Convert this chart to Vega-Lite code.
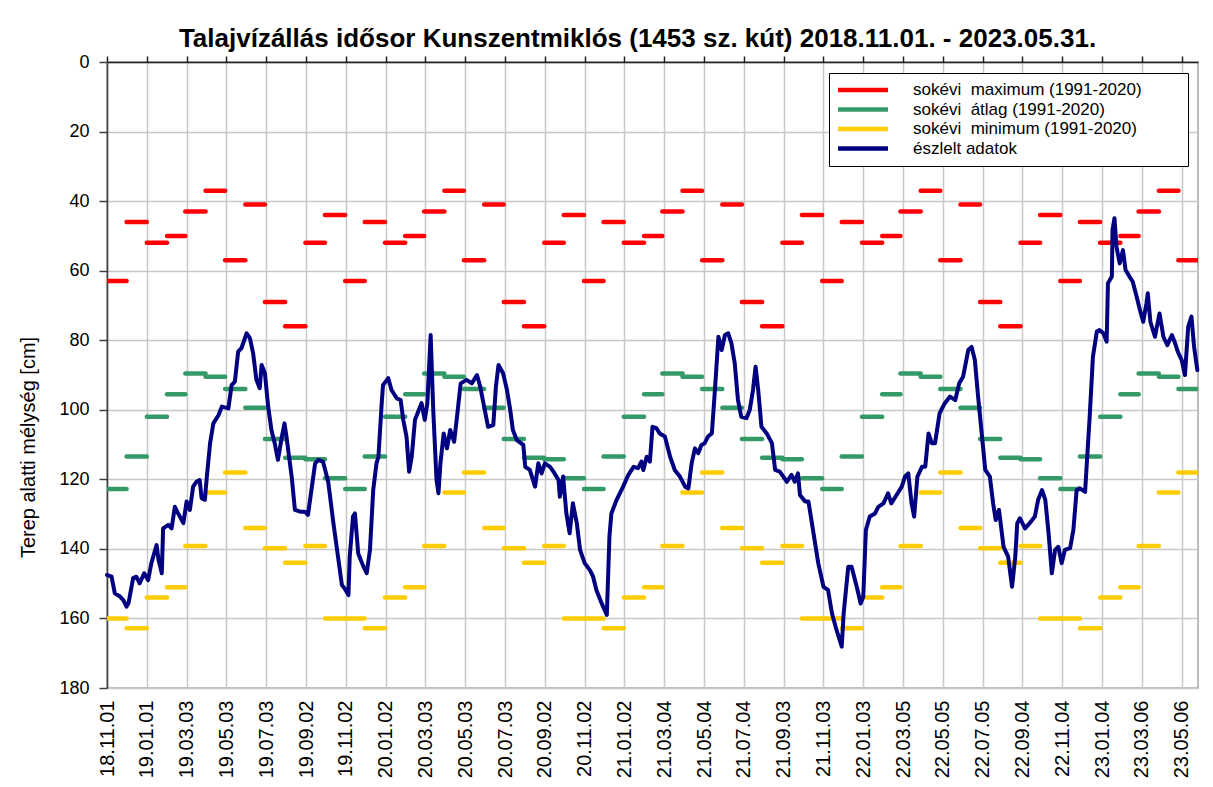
{
"$schema": "https://vega.github.io/schema/vega-lite/v6.json",
"width": 1091, "height": 626,
"autosize": {"type": "none"},
"padding": {"left": 107, "top": 62, "right": 15, "bottom": 99},
"background": "#ffffff",
"title": {"text": "Talajvízállás idősor Kunszentmiklós (1453 sz. kút) 2018.11.01. - 2023.05.31.", "font": "Liberation Sans", "fontSize": 26, "fontWeight": "bold", "color": "#000000", "anchor": "middle", "dx": -15, "dy": 24, "baseline": "alphabetic", "offset": 4},
"datasets": {
"havi": [
{"kezd":"2018-11-01","veg":"2018-12-01","max":63,"atlag":122.8,"min":160},
{"kezd":"2018-12-01","veg":"2019-01-01","max":46,"atlag":113.4,"min":162.8},
{"kezd":"2019-01-01","veg":"2019-02-01","max":52,"atlag":102,"min":154},
{"kezd":"2019-02-01","veg":"2019-03-01","max":50,"atlag":95.5,"min":151},
{"kezd":"2019-03-01","veg":"2019-04-01","max":43,"atlag":89.6,"min":139.2},
{"kezd":"2019-04-01","veg":"2019-05-01","max":37,"atlag":90.5,"min":123.8},
{"kezd":"2019-05-01","veg":"2019-06-01","max":57,"atlag":94,"min":118},
{"kezd":"2019-06-01","veg":"2019-07-01","max":41,"atlag":99.4,"min":134},
{"kezd":"2019-07-01","veg":"2019-08-01","max":69,"atlag":108.4,"min":139.8},
{"kezd":"2019-08-01","veg":"2019-09-01","max":76,"atlag":113.8,"min":144},
{"kezd":"2019-09-01","veg":"2019-10-01","max":52,"atlag":114.2,"min":139.2},
{"kezd":"2019-10-01","veg":"2019-11-01","max":44,"atlag":119.7,"min":160},
{"kezd":"2019-11-01","veg":"2019-12-01","max":63,"atlag":122.8,"min":160},
{"kezd":"2019-12-01","veg":"2020-01-01","max":46,"atlag":113.4,"min":162.8},
{"kezd":"2020-01-01","veg":"2020-02-01","max":52,"atlag":102,"min":154},
{"kezd":"2020-02-01","veg":"2020-03-01","max":50,"atlag":95.5,"min":151},
{"kezd":"2020-03-01","veg":"2020-04-01","max":43,"atlag":89.6,"min":139.2},
{"kezd":"2020-04-01","veg":"2020-05-01","max":37,"atlag":90.5,"min":123.8},
{"kezd":"2020-05-01","veg":"2020-06-01","max":57,"atlag":94,"min":118},
{"kezd":"2020-06-01","veg":"2020-07-01","max":41,"atlag":99.4,"min":134},
{"kezd":"2020-07-01","veg":"2020-08-01","max":69,"atlag":108.4,"min":139.8},
{"kezd":"2020-08-01","veg":"2020-09-01","max":76,"atlag":113.8,"min":144},
{"kezd":"2020-09-01","veg":"2020-10-01","max":52,"atlag":114.2,"min":139.2},
{"kezd":"2020-10-01","veg":"2020-11-01","max":44,"atlag":119.7,"min":160},
{"kezd":"2020-11-01","veg":"2020-12-01","max":63,"atlag":122.8,"min":160},
{"kezd":"2020-12-01","veg":"2021-01-01","max":46,"atlag":113.4,"min":162.8},
{"kezd":"2021-01-01","veg":"2021-02-01","max":52,"atlag":102,"min":154},
{"kezd":"2021-02-01","veg":"2021-03-01","max":50,"atlag":95.5,"min":151},
{"kezd":"2021-03-01","veg":"2021-04-01","max":43,"atlag":89.6,"min":139.2},
{"kezd":"2021-04-01","veg":"2021-05-01","max":37,"atlag":90.5,"min":123.8},
{"kezd":"2021-05-01","veg":"2021-06-01","max":57,"atlag":94,"min":118},
{"kezd":"2021-06-01","veg":"2021-07-01","max":41,"atlag":99.4,"min":134},
{"kezd":"2021-07-01","veg":"2021-08-01","max":69,"atlag":108.4,"min":139.8},
{"kezd":"2021-08-01","veg":"2021-09-01","max":76,"atlag":113.8,"min":144},
{"kezd":"2021-09-01","veg":"2021-10-01","max":52,"atlag":114.2,"min":139.2},
{"kezd":"2021-10-01","veg":"2021-11-01","max":44,"atlag":119.7,"min":160},
{"kezd":"2021-11-01","veg":"2021-12-01","max":63,"atlag":122.8,"min":160},
{"kezd":"2021-12-01","veg":"2022-01-01","max":46,"atlag":113.4,"min":162.8},
{"kezd":"2022-01-01","veg":"2022-02-01","max":52,"atlag":102,"min":154},
{"kezd":"2022-02-01","veg":"2022-03-01","max":50,"atlag":95.5,"min":151},
{"kezd":"2022-03-01","veg":"2022-04-01","max":43,"atlag":89.6,"min":139.2},
{"kezd":"2022-04-01","veg":"2022-05-01","max":37,"atlag":90.5,"min":123.8},
{"kezd":"2022-05-01","veg":"2022-06-01","max":57,"atlag":94,"min":118},
{"kezd":"2022-06-01","veg":"2022-07-01","max":41,"atlag":99.4,"min":134},
{"kezd":"2022-07-01","veg":"2022-08-01","max":69,"atlag":108.4,"min":139.8},
{"kezd":"2022-08-01","veg":"2022-09-01","max":76,"atlag":113.8,"min":144},
{"kezd":"2022-09-01","veg":"2022-10-01","max":52,"atlag":114.2,"min":139.2},
{"kezd":"2022-10-01","veg":"2022-11-01","max":44,"atlag":119.7,"min":160},
{"kezd":"2022-11-01","veg":"2022-12-01","max":63,"atlag":122.8,"min":160},
{"kezd":"2022-12-01","veg":"2023-01-01","max":46,"atlag":113.4,"min":162.8},
{"kezd":"2023-01-01","veg":"2023-02-01","max":52,"atlag":102,"min":154},
{"kezd":"2023-02-01","veg":"2023-03-01","max":50,"atlag":95.5,"min":151},
{"kezd":"2023-03-01","veg":"2023-04-01","max":43,"atlag":89.6,"min":139.2},
{"kezd":"2023-04-01","veg":"2023-05-01","max":37,"atlag":90.5,"min":123.8},
{"kezd":"2023-05-01","veg":"2023-05-31","max":57,"atlag":94,"min":118}
],
"meres": [
{"nap":"2018-11-01","melyseg":147.5},{"nap":"2018-11-08","melyseg":148},{"nap":"2018-11-13","melyseg":152.8},{"nap":"2018-11-21","melyseg":153.7},{"nap":"2018-11-26","melyseg":154.7},
{"nap":"2018-12-01","melyseg":156.6},{"nap":"2018-12-04","melyseg":155.6},{"nap":"2018-12-11","melyseg":148.4},{"nap":"2018-12-16","melyseg":148},{"nap":"2018-12-21","melyseg":149.9},{"nap":"2018-12-28","melyseg":147},
{"nap":"2019-01-03","melyseg":149},{"nap":"2019-01-08","melyseg":144.1},{"nap":"2019-01-16","melyseg":138.9},{"nap":"2019-01-19","melyseg":143.2},{"nap":"2019-01-24","melyseg":147},{"nap":"2019-01-26","melyseg":134.1},
{"nap":"2019-02-03","melyseg":133.1},{"nap":"2019-02-08","melyseg":134.1},{"nap":"2019-02-13","melyseg":127.9},{"nap":"2019-02-18","melyseg":129.8},{"nap":"2019-02-26","melyseg":132.6},
{"nap":"2019-03-03","melyseg":126.4},{"nap":"2019-03-08","melyseg":128.8},{"nap":"2019-03-13","melyseg":122.1},{"nap":"2019-03-18","melyseg":120.7},{"nap":"2019-03-23","melyseg":120.2},{"nap":"2019-03-26","melyseg":125.4},{"nap":"2019-03-31","melyseg":125.9},
{"nap":"2019-04-03","melyseg":119.2},{"nap":"2019-04-08","melyseg":109.6},{"nap":"2019-04-13","melyseg":103.9},{"nap":"2019-04-21","melyseg":101.5},{"nap":"2019-04-26","melyseg":99.1},
{"nap":"2019-05-06","melyseg":99.6},{"nap":"2019-05-11","melyseg":92.9},{"nap":"2019-05-16","melyseg":91.9},{"nap":"2019-05-21","melyseg":83.3},{"nap":"2019-05-26","melyseg":82.3},
{"nap":"2019-06-03","melyseg":78},{"nap":"2019-06-08","melyseg":79.4},{"nap":"2019-06-13","melyseg":83.8},{"nap":"2019-06-18","melyseg":91.4},{"nap":"2019-06-23","melyseg":93.8},{"nap":"2019-06-26","melyseg":87.1},
{"nap":"2019-07-01","melyseg":89.5},{"nap":"2019-07-06","melyseg":99.1},{"nap":"2019-07-11","melyseg":105.8},{"nap":"2019-07-16","melyseg":109.6},{"nap":"2019-07-21","melyseg":114.4},{"nap":"2019-07-27","melyseg":107.7},{"nap":"2019-07-31","melyseg":103.9},
{"nap":"2019-08-03","melyseg":107.7},{"nap":"2019-08-11","melyseg":119.2},{"nap":"2019-08-16","melyseg":128.8},{"nap":"2019-08-24","melyseg":129.3},{"nap":"2019-08-31","melyseg":129.3},
{"nap":"2019-09-05","melyseg":130.2},{"nap":"2019-09-11","melyseg":122.1},{"nap":"2019-09-16","melyseg":115.4},{"nap":"2019-09-21","melyseg":114.4},{"nap":"2019-09-28","melyseg":114.9},
{"nap":"2019-10-06","melyseg":120.7},{"nap":"2019-10-14","melyseg":132.6},{"nap":"2019-10-21","melyseg":142.2},{"nap":"2019-10-27","melyseg":150.4},{"nap":"2019-10-31","melyseg":151.3},
{"nap":"2019-11-06","melyseg":153.3},{"nap":"2019-11-08","melyseg":142.2},{"nap":"2019-11-13","melyseg":130.7},{"nap":"2019-11-16","melyseg":129.8},{"nap":"2019-11-21","melyseg":141.3},{"nap":"2019-11-29","melyseg":145.1},
{"nap":"2019-12-04","melyseg":147},{"nap":"2019-12-09","melyseg":140.3},{"nap":"2019-12-14","melyseg":123.1},{"nap":"2019-12-19","melyseg":115.4},{"nap":"2019-12-22","melyseg":113.5},{"nap":"2019-12-27","melyseg":98.1},{"nap":"2019-12-29","melyseg":92.9},
{"nap":"2020-01-06","melyseg":90.9},{"nap":"2020-01-11","melyseg":94.3},{"nap":"2020-01-19","melyseg":96.7},{"nap":"2020-01-25","melyseg":97.2},{"nap":"2020-01-29","melyseg":102.9},
{"nap":"2020-02-03","melyseg":107.7},{"nap":"2020-02-07","melyseg":117.8},{"nap":"2020-02-11","melyseg":113.5},{"nap":"2020-02-16","melyseg":102.9},{"nap":"2020-02-21","melyseg":100.5},{"nap":"2020-02-26","melyseg":98.1},
{"nap":"2020-03-02","melyseg":102.9},{"nap":"2020-03-06","melyseg":98.1},{"nap":"2020-03-11","melyseg":78.5},{"nap":"2020-03-15","melyseg":100.1},{"nap":"2020-03-20","melyseg":120.2},{"nap":"2020-03-23","melyseg":124},{"nap":"2020-03-26","melyseg":115.4},{"nap":"2020-03-31","melyseg":106.8},
{"nap":"2020-04-05","melyseg":111.1},{"nap":"2020-04-10","melyseg":105.8},{"nap":"2020-04-16","melyseg":109.2},{"nap":"2020-04-21","melyseg":101},{"nap":"2020-04-26","melyseg":92.4},
{"nap":"2020-05-05","melyseg":91.4},{"nap":"2020-05-13","melyseg":92.4},{"nap":"2020-05-21","melyseg":90},{"nap":"2020-05-26","melyseg":93.4},
{"nap":"2020-06-02","melyseg":100.1},{"nap":"2020-06-07","melyseg":104.9},{"nap":"2020-06-15","melyseg":104.4},{"nap":"2020-06-19","melyseg":93.4},{"nap":"2020-06-23","melyseg":87.1},{"nap":"2020-06-30","melyseg":89.5},
{"nap":"2020-07-06","melyseg":94.3},{"nap":"2020-07-11","melyseg":100.1},{"nap":"2020-07-15","melyseg":105.8},{"nap":"2020-07-21","melyseg":108.7},{"nap":"2020-07-31","melyseg":110.1},
{"nap":"2020-08-03","melyseg":116.4},{"nap":"2020-08-10","melyseg":117.3},{"nap":"2020-08-18","melyseg":122.1},{"nap":"2020-08-23","melyseg":115.4},{"nap":"2020-08-28","melyseg":118.3},
{"nap":"2020-09-02","melyseg":115.4},{"nap":"2020-09-10","melyseg":116.4},{"nap":"2020-09-17","melyseg":118.3},{"nap":"2020-09-23","melyseg":120.2},{"nap":"2020-09-25","melyseg":125},{"nap":"2020-09-30","melyseg":119.2},
{"nap":"2020-10-05","melyseg":129.8},{"nap":"2020-10-10","melyseg":135.5},{"nap":"2020-10-15","melyseg":126.9},{"nap":"2020-10-21","melyseg":132.6},{"nap":"2020-10-26","melyseg":140.3},
{"nap":"2020-11-02","melyseg":144.1},{"nap":"2020-11-10","melyseg":146.1},{"nap":"2020-11-15","melyseg":148},{"nap":"2020-11-20","melyseg":151.8},{"nap":"2020-11-28","melyseg":155.6},
{"nap":"2020-12-06","melyseg":159},{"nap":"2020-12-10","melyseg":136.5},{"nap":"2020-12-13","melyseg":129.8},{"nap":"2020-12-21","melyseg":125.9},{"nap":"2020-12-31","melyseg":122.1},
{"nap":"2021-01-08","melyseg":118.7},{"nap":"2021-01-16","melyseg":116.4},{"nap":"2021-01-23","melyseg":116.8},{"nap":"2021-01-28","melyseg":114.9},{"nap":"2021-01-31","melyseg":117.3},
{"nap":"2021-02-05","melyseg":113.5},{"nap":"2021-02-10","melyseg":114.9},{"nap":"2021-02-14","melyseg":104.9},{"nap":"2021-02-20","melyseg":105.3},{"nap":"2021-02-25","melyseg":106.8},
{"nap":"2021-03-05","melyseg":107.7},{"nap":"2021-03-13","melyseg":113.5},{"nap":"2021-03-20","melyseg":117.3},{"nap":"2021-03-28","melyseg":119.2},
{"nap":"2021-04-05","melyseg":122.1},{"nap":"2021-04-10","melyseg":122.6},{"nap":"2021-04-15","melyseg":115.4},{"nap":"2021-04-20","melyseg":111.1},{"nap":"2021-04-25","melyseg":112.5},{"nap":"2021-04-30","melyseg":110.1},
{"nap":"2021-05-05","melyseg":109.6},{"nap":"2021-05-10","melyseg":107.7},{"nap":"2021-05-16","melyseg":106.8},{"nap":"2021-05-21","melyseg":93.4},{"nap":"2021-05-26","melyseg":79},{"nap":"2021-05-31","melyseg":82.8},
{"nap":"2021-06-05","melyseg":78.5},{"nap":"2021-06-10","melyseg":78},{"nap":"2021-06-15","melyseg":80.9},{"nap":"2021-06-20","melyseg":86.6},{"nap":"2021-06-25","melyseg":97.2},{"nap":"2021-06-30","melyseg":102},
{"nap":"2021-07-08","melyseg":102.4},{"nap":"2021-07-13","melyseg":100.1},{"nap":"2021-07-18","melyseg":94.3},{"nap":"2021-07-22","melyseg":87.6},{"nap":"2021-07-26","melyseg":94.3},{"nap":"2021-07-31","melyseg":104.9},
{"nap":"2021-08-08","melyseg":106.8},{"nap":"2021-08-16","melyseg":109.6},{"nap":"2021-08-21","melyseg":117.3},{"nap":"2021-08-28","melyseg":117.8},
{"nap":"2021-09-08","melyseg":120.7},{"nap":"2021-09-15","melyseg":118.7},{"nap":"2021-09-20","melyseg":120.7},{"nap":"2021-09-25","melyseg":118.3},{"nap":"2021-09-28","melyseg":124.5},
{"nap":"2021-10-06","melyseg":126.4},{"nap":"2021-10-11","melyseg":126.4},{"nap":"2021-10-18","melyseg":134.6},{"nap":"2021-10-26","melyseg":144.1},
{"nap":"2021-11-03","melyseg":150.9},{"nap":"2021-11-10","melyseg":151.8},{"nap":"2021-11-16","melyseg":158.5},{"nap":"2021-11-23","melyseg":163.3},
{"nap":"2021-12-01","melyseg":168.1},{"nap":"2021-12-04","melyseg":158.5},{"nap":"2021-12-11","melyseg":145.1},{"nap":"2021-12-16","melyseg":145.1},{"nap":"2021-12-24","melyseg":150.9},{"nap":"2021-12-30","melyseg":155.7},
{"nap":"2022-01-03","melyseg":153.8},{"nap":"2022-01-07","melyseg":134.6},{"nap":"2022-01-13","melyseg":130.7},{"nap":"2022-01-21","melyseg":129.8},{"nap":"2022-01-26","melyseg":127.9},
{"nap":"2022-02-03","melyseg":126.9},{"nap":"2022-02-10","melyseg":124},{"nap":"2022-02-15","melyseg":126.9},{"nap":"2022-02-23","melyseg":124.5},
{"nap":"2022-03-03","melyseg":122.1},{"nap":"2022-03-08","melyseg":119.2},{"nap":"2022-03-13","melyseg":118.3},{"nap":"2022-03-18","melyseg":126.9},{"nap":"2022-03-22","melyseg":130.7},{"nap":"2022-03-27","melyseg":119.2},
{"nap":"2022-04-03","melyseg":116.4},{"nap":"2022-04-08","melyseg":116.4},{"nap":"2022-04-13","melyseg":106.8},{"nap":"2022-04-18","melyseg":109.6},{"nap":"2022-04-23","melyseg":109.6},{"nap":"2022-04-30","melyseg":101},
{"nap":"2022-05-08","melyseg":98.1},{"nap":"2022-05-16","melyseg":96.2},{"nap":"2022-05-24","melyseg":97.2},{"nap":"2022-05-30","melyseg":92.4},
{"nap":"2022-06-05","melyseg":90.5},{"nap":"2022-06-13","melyseg":82.8},{"nap":"2022-06-18","melyseg":81.9},{"nap":"2022-06-23","melyseg":85.7},{"nap":"2022-06-28","melyseg":96.2},
{"nap":"2022-07-04","melyseg":107.7},{"nap":"2022-07-09","melyseg":117.3},{"nap":"2022-07-16","melyseg":119.2},{"nap":"2022-07-21","melyseg":126.9},{"nap":"2022-07-25","melyseg":131.7},{"nap":"2022-07-30","melyseg":128.8},
{"nap":"2022-08-06","melyseg":139.4},{"nap":"2022-08-13","melyseg":142.2},{"nap":"2022-08-19","melyseg":150.9},{"nap":"2022-08-24","melyseg":142.2},{"nap":"2022-08-27","melyseg":132.6},{"nap":"2022-08-31","melyseg":131.2},
{"nap":"2022-09-08","melyseg":134.1},{"nap":"2022-09-15","melyseg":132.6},{"nap":"2022-09-23","melyseg":130.7},{"nap":"2022-09-28","melyseg":125.9},
{"nap":"2022-10-04","melyseg":123.1},{"nap":"2022-10-09","melyseg":125.9},{"nap":"2022-10-14","melyseg":135.5},{"nap":"2022-10-19","melyseg":147},{"nap":"2022-10-24","melyseg":140.3},{"nap":"2022-10-29","melyseg":139.4},
{"nap":"2022-11-03","melyseg":144.1},{"nap":"2022-11-08","melyseg":140.3},{"nap":"2022-11-16","melyseg":139.8},{"nap":"2022-11-21","melyseg":134.6},{"nap":"2022-11-26","melyseg":123.1},
{"nap":"2022-12-01","melyseg":122.6},{"nap":"2022-12-09","melyseg":123.6},{"nap":"2022-12-11","melyseg":117.3},{"nap":"2022-12-16","melyseg":102},{"nap":"2022-12-21","melyseg":84.7},{"nap":"2022-12-27","melyseg":77.5},{"nap":"2022-12-31","melyseg":77.1},
{"nap":"2023-01-06","melyseg":78},{"nap":"2023-01-11","melyseg":80.4},{"nap":"2023-01-13","melyseg":63.6},{"nap":"2023-01-19","melyseg":61.7},{"nap":"2023-01-20","melyseg":48.3},{"nap":"2023-01-23","melyseg":44.9},{"nap":"2023-01-26","melyseg":53.1},{"nap":"2023-01-31","melyseg":57.9},
{"nap":"2023-02-05","melyseg":54.1},{"nap":"2023-02-09","melyseg":59.8},{"nap":"2023-02-15","melyseg":61.7},{"nap":"2023-02-20","melyseg":63.2},{"nap":"2023-02-26","melyseg":67.5},
{"nap":"2023-03-03","melyseg":71.3},{"nap":"2023-03-08","melyseg":74.7},{"nap":"2023-03-13","melyseg":69.4},{"nap":"2023-03-15","melyseg":66.5},{"nap":"2023-03-19","melyseg":74.7},{"nap":"2023-03-26","melyseg":79},
{"nap":"2023-04-02","melyseg":72.3},{"nap":"2023-04-08","melyseg":79},{"nap":"2023-04-14","melyseg":81.4},{"nap":"2023-04-21","melyseg":78.5},{"nap":"2023-04-26","melyseg":80.9},{"nap":"2023-04-30","melyseg":83.3},
{"nap":"2023-05-06","melyseg":85.7},{"nap":"2023-05-11","melyseg":90},{"nap":"2023-05-16","melyseg":76.1},{"nap":"2023-05-21","melyseg":73.2},{"nap":"2023-05-25","melyseg":81.9},{"nap":"2023-05-30","melyseg":88.6}
]
},
"layer": [
{
"data": {"name": "havi"},
"transform": [{"fold": ["max", "atlag", "min"], "as": ["sorozat", "ertek"]}],
"mark": {"type": "rule", "strokeWidth": 4.5, "strokeCap": "round", "clip": true},
"encoding": {
"x": {"field": "kezd", "type": "temporal",
"scale": {"type": "utc", "domain": [{"year":2018,"month":11,"date":1,"utc":true},{"year":2023,"month":5,"date":31,"utc":true}]},
"axis": {"orient": "bottom", "title": null, "labelExpr": "utcFormat(datum.value, '%y.%m.%d')",
"values": [{"year":2018,"month":11,"date":1,"utc":true},{"year":2019,"month":1,"date":1,"utc":true},{"year":2019,"month":3,"date":3,"utc":true},{"year":2019,"month":5,"date":3,"utc":true},{"year":2019,"month":7,"date":3,"utc":true},{"year":2019,"month":9,"date":2,"utc":true},{"year":2019,"month":11,"date":2,"utc":true},{"year":2020,"month":1,"date":2,"utc":true},{"year":2020,"month":3,"date":3,"utc":true},{"year":2020,"month":5,"date":3,"utc":true},{"year":2020,"month":7,"date":3,"utc":true},{"year":2020,"month":9,"date":2,"utc":true},{"year":2020,"month":11,"date":2,"utc":true},{"year":2021,"month":1,"date":2,"utc":true},{"year":2021,"month":3,"date":4,"utc":true},{"year":2021,"month":5,"date":4,"utc":true},{"year":2021,"month":7,"date":4,"utc":true},{"year":2021,"month":9,"date":3,"utc":true},{"year":2021,"month":11,"date":3,"utc":true},{"year":2022,"month":1,"date":3,"utc":true},{"year":2022,"month":3,"date":5,"utc":true},{"year":2022,"month":5,"date":5,"utc":true},{"year":2022,"month":7,"date":5,"utc":true},{"year":2022,"month":9,"date":4,"utc":true},{"year":2022,"month":11,"date":4,"utc":true},{"year":2023,"month":1,"date":4,"utc":true},{"year":2023,"month":3,"date":6,"utc":true},{"year":2023,"month":5,"date":6,"utc":true}],
"labelAngle": 270, "labelFontSize": 20, "labelPadding": 12, "labelOverlap": false, "labelFlush": false, "labelBound": false,
"ticks": false, "tickSize": 0, "domain": false, "grid": true, "gridColor": "#c8c8c8", "gridWidth": 1.5}},
"x2": {"field": "veg"},
"y": {"field": "ertek", "type": "quantitative",
"scale": {"domain": [0, 180], "reverse": true, "nice": false, "zero": true},
"axis": {"title": "Terep alatti mélység [cm]", "values": [0,20,40,60,80,100,120,140,160,180],
"grid": true, "gridColor": "#c8c8c8", "gridWidth": 1.5,
"domainColor": "#404040", "domainWidth": 1.5, "tickColor": "#404040", "tickWidth": 1.5, "tickSize": 8,
"labelFontSize": 18, "labelPadding": 10,
"titleFontSize": 20, "titleFontWeight": "normal", "titleAngle": 270, "titleX": -69, "titleY": 385, "titleBaseline": "bottom", "titleAlign": "center"}},
"color": {"field": "sorozat", "type": "nominal",
"scale": {"domain": ["max", "atlag", "min", "észlelt adatok"], "range": ["#ff0000", "#339966", "#ffcc00", "#000080"]},
"legend": {"title": null, "orient": "none", "legendX": 722, "legendY": 11, "direction": "vertical",
"padding": 8.5, "strokeColor": "#000000", "fillColor": "#ffffff",
"symbolType": "M-5,0L5,0", "symbolSize": 100, "symbolStrokeWidth": 4.5, "symbolOffset": 17,
"labelOffset": 41.5, "labelFontSize": 17, "labelFont": "Liberation Sans", "labelColor": "#000000", "rowPadding": 0.5, "labelLimit": 500,
"labelExpr": "datum.label == 'max' ? 'sokévi\u00a0 maximum (1991-2020)\u00a0\u00a0\u00a0\u00a0\u00a0\u00a0\u00a0\u00a0\u200b' : datum.label == 'atlag' ? 'sokévi\u00a0 átlag (1991-2020)' : datum.label == 'min' ? 'sokévi\u00a0 minimum (1991-2020)' : datum.label"}}
}
},
{
"data": {"name": "meres"},
"mark": {"type": "line", "strokeWidth": 4, "strokeJoin": "round", "strokeCap": "round"},
"encoding": {
"x": {"field": "nap", "type": "temporal",
"axis": {"orient": "top", "title": null, "labels": false, "grid": false, "domain": true, "domainColor": "#202020", "domainWidth": 1.5, "ticks": true, "tickSize": 6, "tickColor": "#202020", "tickWidth": 1.5,
"values": [{"year":2018,"month":11,"date":1,"utc":true},{"year":2019,"month":1,"date":1,"utc":true},{"year":2019,"month":3,"date":3,"utc":true},{"year":2019,"month":5,"date":3,"utc":true},{"year":2019,"month":7,"date":3,"utc":true},{"year":2019,"month":9,"date":2,"utc":true},{"year":2019,"month":11,"date":2,"utc":true},{"year":2020,"month":1,"date":2,"utc":true},{"year":2020,"month":3,"date":3,"utc":true},{"year":2020,"month":5,"date":3,"utc":true},{"year":2020,"month":7,"date":3,"utc":true},{"year":2020,"month":9,"date":2,"utc":true},{"year":2020,"month":11,"date":2,"utc":true},{"year":2021,"month":1,"date":2,"utc":true},{"year":2021,"month":3,"date":4,"utc":true},{"year":2021,"month":5,"date":4,"utc":true},{"year":2021,"month":7,"date":4,"utc":true},{"year":2021,"month":9,"date":3,"utc":true},{"year":2021,"month":11,"date":3,"utc":true},{"year":2022,"month":1,"date":3,"utc":true},{"year":2022,"month":3,"date":5,"utc":true},{"year":2022,"month":5,"date":5,"utc":true},{"year":2022,"month":7,"date":5,"utc":true},{"year":2022,"month":9,"date":4,"utc":true},{"year":2022,"month":11,"date":4,"utc":true},{"year":2023,"month":1,"date":4,"utc":true},{"year":2023,"month":3,"date":6,"utc":true},{"year":2023,"month":5,"date":6,"utc":true}]}},
"y": {"field": "melyseg", "type": "quantitative", "axis": null},
"color": {"datum": "észlelt adatok", "type": "nominal"}
}
}
],
"resolve": {"axis": {"x": "independent", "y": "independent"}},
"config": {
"font": "Liberation Sans",
"view": {"stroke": "#a6a6a6", "strokeWidth": 1.5},
"axis": {"labelFont": "Liberation Sans", "titleFont": "Liberation Sans", "labelColor": "#000000", "titleColor": "#000000"},
"legend": {"strokeWidth": 1}
}
}
